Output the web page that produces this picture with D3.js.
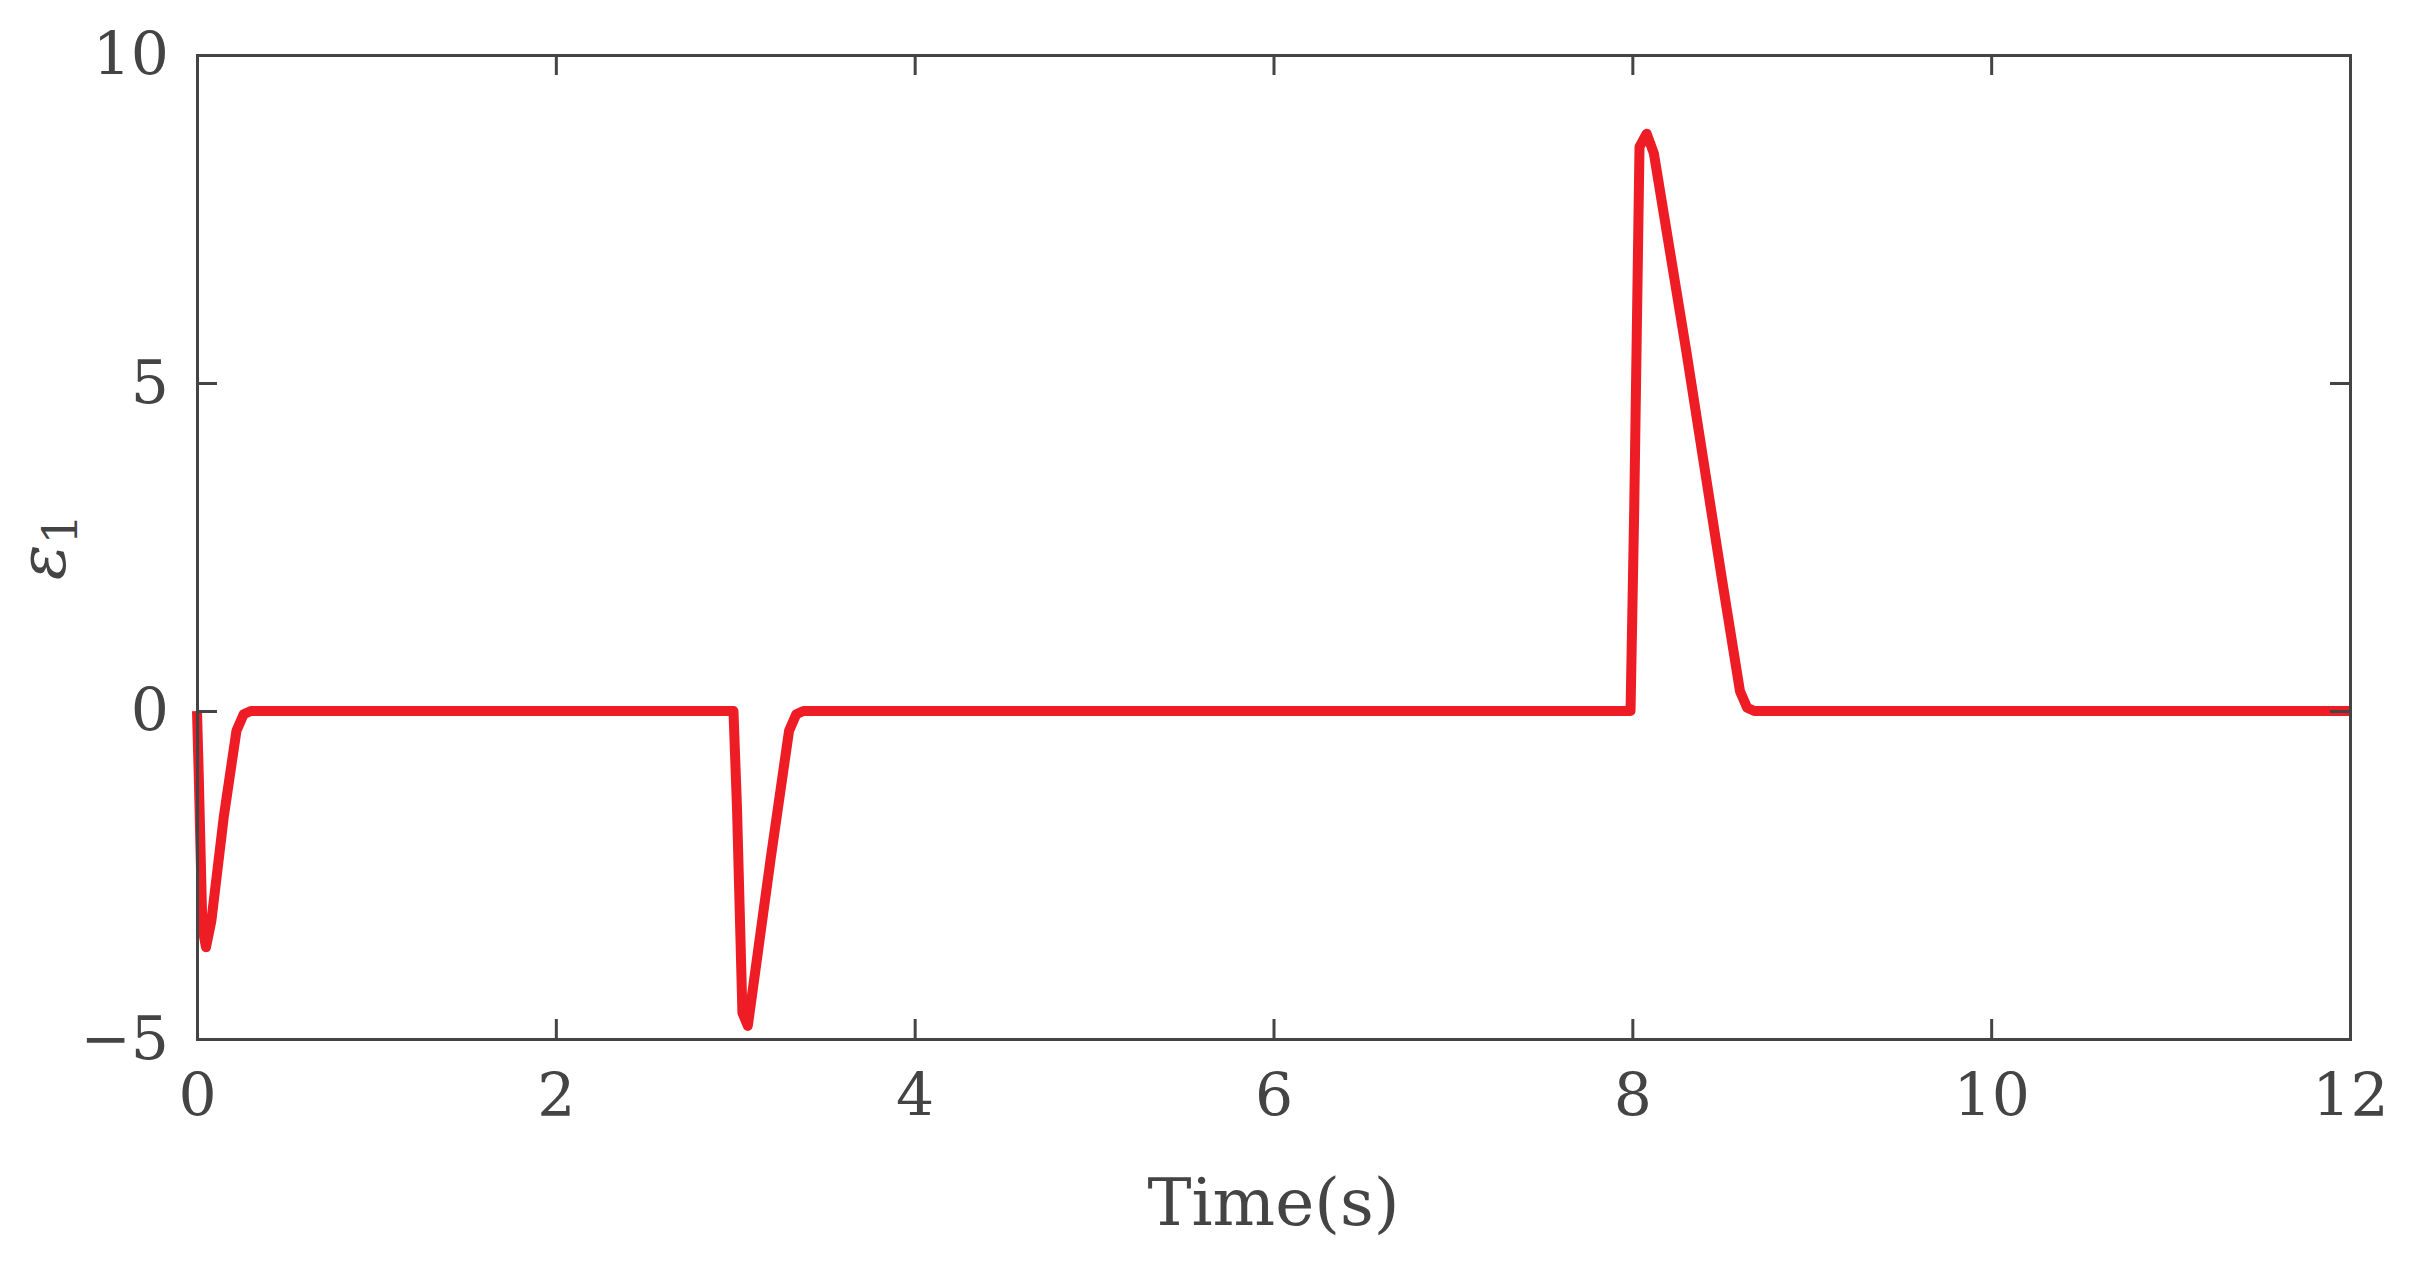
<!DOCTYPE html>
<html><head><meta charset="utf-8">
<script src="https://cdn.jsdelivr.net/npm/d3@7"></script>
<style>body{margin:0;background:#fff}</style></head>
<body><script>
// series
const times  = [0, 0.01, 0.03, 0.05, 0.08, 0.15, 0.22, 0.26, 0.3, 2.99, 3.01, 3.04, 3.07, 3.1, 3.2, 3.3, 3.34, 3.38, 7.99, 8.01, 8.04, 8.08, 8.12, 8.3, 8.5, 8.6, 8.64, 8.68, 12];
const values = [0, -1.0, -3.3, -3.6, -3.2, -1.6, -0.3, -0.05, 0, 0, -1.5, -4.6, -4.8, -4.2, -2.2, -0.3, -0.05, 0, 0, 3.0, 8.6, 8.8, 8.5, 5.5, 2.0, 0.3, 0.05, 0, 0];
const xTicks = [0, 2, 4, 6, 8, 10, 12];
const yTicks = [-5, 0, 5, 10];

const W = 2416, H = 1262;
const m = {left: 197, right: 2350, top: 55, bottom: 1039};
const x = d3.scaleLinear().domain([0, 12]).range([m.left, m.right]);
const y = d3.scaleLinear().domain([-5, 10]).range([m.bottom, m.top]);
const grey = "#444", font = "'DejaVu Serif', 'Liberation Serif', serif";

const svg = d3.select("body").append("svg").attr("width", W).attr("height", H);

// line
svg.append("path")
    .datum(times.map((t, i) => [t, values[i]]))
    .attr("fill", "none").attr("stroke", "#ee1c25").attr("stroke-width", 10)
    .attr("stroke-linejoin", "round")
    .attr("d", d3.line().x(d => x(d[0])).y(d => y(d[1])));

// axes, ticks inward on all four sides
const tk = 20;
svg.append("g").attr("transform", `translate(0,${m.bottom})`)
    .call(d3.axisBottom(x).tickValues(xTicks).tickSize(-tk).tickPadding(tk + 14));
svg.append("g").attr("transform", `translate(0,${m.top})`)
    .call(d3.axisTop(x).tickValues(xTicks).tickSize(-tk).tickFormat(""));
svg.append("g").attr("transform", `translate(${m.left},0)`)
    .call(d3.axisLeft(y).tickValues(yTicks).tickSize(-tk).tickPadding(tk + 8));
svg.append("g").attr("transform", `translate(${m.right},0)`)
    .call(d3.axisRight(y).tickValues(yTicks).tickSize(-tk).tickFormat(""));

svg.selectAll(".domain").attr("stroke", grey).attr("stroke-width", 3);
svg.selectAll(".tick line").attr("stroke", grey).attr("stroke-width", 3);
svg.selectAll(".tick text").attr("fill", grey).style("font-family", font).style("font-size", "60px");

svg.append("text").attr("x", (m.left + m.right) / 2).attr("y", 1225)
    .attr("text-anchor", "middle").attr("fill", grey)
    .style("font-family", font).style("font-size", "66px").text("Time(s)");

svg.append("text").attr("transform", `translate(65,${(m.top + m.bottom) / 2}) rotate(-90)`)
    .attr("text-anchor", "middle").attr("fill", grey)
    .style("font-family", font).style("font-size", "66px")
    .html('<tspan font-style="italic">ε</tspan><tspan dy="12" font-size="48px">1</tspan>');
</script></body></html>
